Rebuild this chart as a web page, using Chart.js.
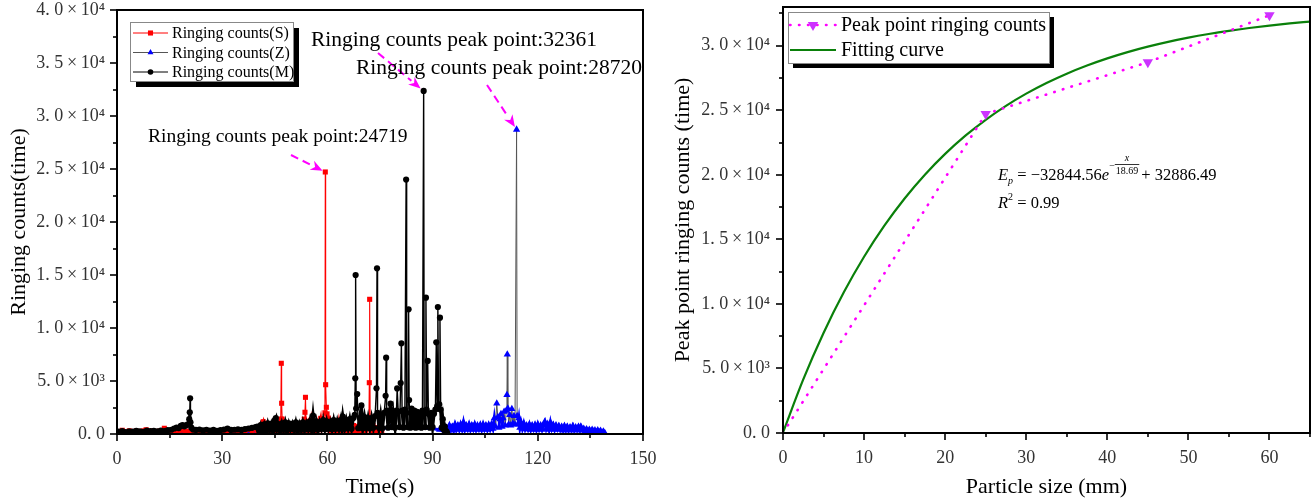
<!DOCTYPE html>
<html>
<head>
<meta charset="utf-8">
<title>Ringing counts</title>
<script src="https://cdn.jsdelivr.net/npm/chart.js@4.4.1/dist/chart.umd.min.js"></script>
<style>
  html, body { margin: 0; padding: 0; background: #fff; overflow: hidden; }
  #wrap { position: relative; width: 1316px; height: 503px; }
  canvas { position: absolute; top: 0; }
  #timeChart { left: 0; }
  #sizeChart { left: 660px; }
</style>
</head>
<body>
<div id="wrap">
  <canvas id="sizeChart" width="656" height="503"></canvas>
  <canvas id="timeChart" width="680" height="503"></canvas>
</div>
<script>
// ---- Ringing counts over time, specimen S ----
const sTime = [0.5,1.5,2.5,3.5,4.5,5.5,6.5,7.5,8.3,9.2,10.2,11.2,12.2,13.5,14.5,15.5,16.5,17.5,18.5,19.5,
  20.5,21.5,22.5,23.5,24.5,25.5,26.5,27.5,28.5,29.5,30.5,31.5,32.5,33.5,34.5,35.5,36.5,37.5,38.5,39.5,
  40.0,40.5,41.0,41.4,41.7,42.0,42.4,42.7,43.0,43.5,44.0,44.5,45.0,45.5,46.0,46.4,46.7,46.85,46.95,47.1,
  47.4,47.8,48.2,48.6,49.0,49.5,50.0,50.5,51.0,51.5,52.0,52.5,53.0,53.4,53.6,53.75,53.9,54.2,54.6,55.0,
  55.4,55.8,56.2,56.6,57.0,57.4,57.8,58.1,58.4,58.8,59.1,59.3,59.4,59.5,59.7,59.9,60.2,60.5,60.9,61.3,
  61.7,62.1,62.5,62.9,63.3,63.7,64.1,64.5,64.9,65.3,65.7,66.1,66.5,67.0,67.5,68.0,68.5,69.0,69.5,70.0,
  70.5,71.0,71.5,71.85,71.95,72.05,72.2,72.6,73.0,73.5,74.0,74.5,75.0,75.5];
const sCount = [200,350,150,300,200,280,150,300,400,200,300,150,280,540,250,200,320,180,350,250,
  260,320,180,300,200,300,170,320,200,300,180,330,220,350,200,380,250,420,300,500,
  300,650,300,900,1160,400,1000,950,300,800,250,700,300,900,250,850,1400,6670,2900,1415,
  300,900,250,800,300,700,250,850,300,750,250,900,300,1400,2050,3460,1200,400,1000,300,
  1300,400,900,300,1100,400,1000,1480,500,1100,1300,2000,24719,4650,2520,1900,1500,400,1100,300,
  1000,350,900,300,1200,400,1000,300,800,350,900,300,700,300,800,300,700,300,800,300,
  700,350,900,1415,4840,12707,1100,300,800,300,600,250,500,200];

// ---- specimen Z ----
const zTime = [0.5,5,10,15,20,25,30,35,40,45,50,55,60,65,70,71.7,73,78,83,88,92,
  93.5,94.0,94.4,94.8,95.2,95.6,96.0,96.4,96.8,97.2,97.6,98.0,98.4,98.8,99.2,99.6,100.0,100.4,100.8,101.2,
  101.6,102.0,102.4,102.8,103.2,103.6,104.0,104.4,104.8,105.2,105.6,106.0,106.4,106.8,107.2,107.6,107.9,108.3,108.6,108.9,
  109.2,109.5,109.8,110.1,110.4,110.7,111.0,111.2,111.3,111.45,111.7,112.0,112.3,112.6,112.9,113.2,113.5,113.95,114.1,114.3,
  114.6,114.9,115.2,115.6,116.0,116.4,116.8,117.2,117.6,118.0,118.4,118.8,119.2,119.6,120.0,120.4,120.8,121.2,121.6,122.0,
  122.4,122.8,123.2,123.6,124.0,124.4,124.8,125.2,125.6,126.0,126.4,126.8,127.2,127.6,128.0,128.4,128.8,129.2,129.6,130.0,
  130.4,130.8,131.2,131.6,132.0,132.3,132.7,133.1,133.5,133.9,134.3,134.7,135.1,135.5,135.9,136.3,136.7,137.1,137.5,137.9,
  138.3,138.7,139.1];
const zCount = [100,150,120,180,150,200,180,220,250,300,350,400,450,500,600,1200,500,600,700,600,400,
  250,600,350,800,400,700,350,900,450,800,400,900,450,1100,400,800,450,900,400,800,
  450,900,400,800,450,850,400,900,450,800,400,850,450,900,500,1500,700,2890,1600,600,
  1400,1900,700,1500,2100,800,2200,3680,7500,2400,900,1800,800,2360,1000,1700,900,28720,1700,900,
  1500,600,1100,500,1000,450,800,450,900,400,800,450,850,400,900,450,800,400,850,1160,
  500,900,400,1100,500,850,400,800,450,750,400,700,350,750,400,700,350,650,400,750,
  350,650,400,700,350,700,400,500,300,450,300,400,250,400,250,350,200,350,200,300,
  150,250,100];

// ---- specimen M ----
const mTime = [0.5,1.5,2.5,3.5,4.5,5.5,6.5,7.5,8.5,9.5,10.5,11.5,12.5,13.5,14.5,15.5,16.3,17.0,17.6,18.2,
  18.7,19.2,19.7,20.2,20.6,20.75,20.85,20.95,21.2,21.7,22.5,23.5,24.5,25.5,26.5,27.5,28.5,29.5,30.5,31.5,
  32.5,33.5,34.5,35.5,36.5,37.5,38.5,39.5,
  40.0,40.5,41.0,41.5,42.0,42.5,43.0,43.5,44.0,44.5,45.0,45.3,45.6,46.0,46.5,47.0,47.5,48.0,48.5,49.0,
  49.5,50.0,50.5,51.0,51.5,52.0,52.5,53.0,53.5,54.0,54.5,55.0,55.5,55.9,56.3,56.8,57.3,57.8,58.3,58.8,
  59.3,59.8,60.3,60.8,61.3,61.8,62.3,62.8,63.3,63.8,64.1,64.4,64.9,65.4,65.9,66.4,66.9,67.4,67.8,67.95,
  68.05,68.2,68.5,68.8,69.2,69.5,69.7,70.1,70.6,71.1,71.6,72.1,72.6,73.1,73.6,74.0,74.15,74.3,74.7,75.2,
  75.7,76.2,76.6,76.75,76.9,77.3,77.7,78.0,78.4,78.8,79.3,79.7,79.9,80.2,80.6,80.9,81.1,81.3,81.7,82.1,
  82.45,82.6,82.9,83.15,83.3,83.6,84.0,84.4,84.8,85.2,85.6,86.0,86.4,86.8,87.1,87.45,87.6,87.9,88.1,88.3,
  88.6,88.8,89.2,89.6,90.0,90.4,90.8,91.05,91.3,91.5,91.7,91.9,92.1,92.3,92.6,92.9,93.2,93.5,93.8,94.1];
const mCount = [220,280,190,260,230,300,250,210,320,270,290,240,330,280,360,400,520,610,560,760,
  850,720,820,900,1400,2050,3370,1100,600,420,380,420,340,400,320,380,300,360,420,520,
  380,400,430,380,460,520,580,650,
  700,300,850,350,900,300,1000,400,950,350,1300,1500,450,900,350,1000,400,1100,350,1000,
  450,950,400,1100,350,950,400,1100,400,1000,450,1200,400,1730,450,1200,400,1100,500,1300,
  450,1200,500,1100,450,1300,500,1200,500,1300,550,1630,500,1300,550,1400,500,1500,1800,5255,
  15000,2400,3770,550,1500,600,2700,550,1600,600,1500,550,1500,600,1700,4311,15630,2000,600,1800,
  550,2000,3610,7200,2200,600,2100,2860,650,1900,600,2200,4300,2100,650,4811,8550,2200,600,2300,
  24000,2000,650,11760,3200,600,2400,650,2200,600,2100,650,2000,600,2200,32361,2000,650,12860,2300,
  6890,1900,600,2000,650,1900,2300,8650,2600,11980,2400,2800,10975,2300,600,1400,400,700,300,150];

// ---- Peak point ringing counts vs particle size ----
const peakSize  = [0, 25, 45, 60];
const peakCount = [0, 24719, 28720, 32361];

// Fitted curve E_p = -32844.56 e^(-x/18.69) + 32886.49, tabulated
const fitSize  = [0,2.5,5,7.5,10,12.5,15,17.5,20,22.5,25,27.5,30,32.5,35,37.5,40,42.5,45,47.5,50,52.5,55,57.5,60,62.5,65];
const fitCount = [42,4153,7750,10897,13651,16059,18166,20008,21620,23031,24265,25344,26288,27114,27837,28469,
  29022,29506,29929,30299,30623,30906,31154,31371,31561,31727,31872];

// ---- tick labels ----
const timeTicks = [0, 30, 60, 90, 120, 150];
const sizeTicks = [0, 10, 20, 30, 40, 50, 60];
const countTicksTime = [0, 5000, 10000, 15000, 20000, 25000, 30000, 35000, 40000];
const countTicksSize = [0, 5000, 10000, 15000, 20000, 25000, 30000];

const serif = "'Liberation Serif', 'Times New Roman', serif";
const SUP = { 3: '\u00B3', 4: '\u2074' };

function sciTick(v) {
  if (v === 0) return '0. 0';
  const e = Math.floor(Math.log10(v) + 1e-9);
  const m = (v / Math.pow(10, e)).toFixed(1).replace('.', '. ');
  return m + '\u2009\u00D7\u200910' + SUP[e];
}

const toPoints = (xs, ys) => xs.map((x, i) => ({ x, y: ys[i] }));

// segments that stay inside the low-level noise band are drawn heavier
const inBand = (c, limit) => Math.max(c.p0.parsed.y, c.p1.parsed.y) < limit;

function markerPath(ctx, style, r, rot, cx, cy) {
  if (Chart.helpers && Chart.helpers.drawPoint) {
    Chart.helpers.drawPoint(ctx, { pointStyle: style, radius: r, rotation: rot || 0, borderWidth: 0 }, cx, cy);
    return;
  }
  ctx.beginPath();
  ctx.arc(cx, cy, r, 0, Math.PI * 2);
  ctx.fill();
}

// Box frame with outward major/minor ticks on the bottom and left axes
const frameTicks = {
  id: 'frameTicks',
  afterDatasetsDraw(chart, args, opts) {
    const { ctx, chartArea: a, scales: { x, y } } = chart;
    ctx.save();
    ctx.strokeStyle = '#000';
    ctx.lineWidth = 2;
    ctx.strokeRect(a.left, a.top, a.right - a.left, a.bottom - a.top);
    ctx.lineWidth = 1.6;
    const isMajor = (v, step) => Math.abs(v / step - Math.round(v / step)) < 1e-6;
    for (let v = x.min; v <= x.max + 1e-9; v += opts.x[1]) {
      const px = Math.round(x.getPixelForValue(v));
      ctx.beginPath();
      ctx.moveTo(px, a.bottom);
      ctx.lineTo(px, a.bottom + (isMajor(v, opts.x[0]) ? 7 : 4));
      ctx.stroke();
    }
    for (let v = y.min; v <= y.max + 1e-9; v += opts.y[1]) {
      const py = Math.round(y.getPixelForValue(v));
      ctx.beginPath();
      ctx.moveTo(a.left, py);
      ctx.lineTo(a.left - (isMajor(v, opts.y[0]) ? 7 : 4), py);
      ctx.stroke();
    }
    ctx.restore();
  }
};

// Boxed key with drop shadow inside the plot
const seriesKey = {
  id: 'seriesKey',
  afterDraw(chart, args, o) {
    const { ctx } = chart;
    ctx.save();
    ctx.fillStyle = '#000';
    ctx.fillRect(o.x + o.shadow, o.y + o.shadow, o.w, o.h);
    ctx.fillStyle = '#fff';
    ctx.fillRect(o.x, o.y, o.w, o.h);
    ctx.strokeStyle = '#888';
    ctx.lineWidth = 1;
    ctx.strokeRect(o.x + 0.5, o.y + 0.5, o.w, o.h);
    ctx.font = o.fontSize + 'px ' + serif;
    ctx.textBaseline = 'middle';
    o.items.forEach((idx, i) => {
      const ds = chart.data.datasets[idx];
      const cy = o.y + o.firstRow + i * o.rowH;
      ctx.save();
      ctx.strokeStyle = ds.borderColor;
      ctx.lineWidth = ds.keyLineWidth || ds.borderWidth;
      ctx.setLineDash(ds.borderDash || []);
      ctx.lineCap = ds.borderCapStyle || 'butt';
      ctx.beginPath();
      ctx.moveTo(o.x + o.sample[0], cy);
      ctx.lineTo(o.x + o.sample[1], cy);
      ctx.stroke();
      ctx.restore();
      if (ds.keyRadius) {
        ctx.fillStyle = ds.pointBackgroundColor;
        markerPath(ctx, ds.pointStyle, ds.keyRadius, ds.pointRotation, o.x + (o.sample[0] + o.sample[1]) / 2, cy);
      }
      ctx.fillStyle = '#000';
      ctx.fillText(ds.label, o.x + o.textX, cy + 1);
    });
    ctx.restore();
  }
};

// Peak callouts: text plus dashed arrow pointing at the peak mark
const peakNotes = {
  id: 'peakNotes',
  afterDraw(chart, args, opts) {
    const { ctx } = chart;
    ctx.save();
    opts.notes.forEach(n => {
      const values = chart.data.datasets[n.dataset].data;
      let best = 0;
      values.forEach((p, i) => { if (p.y > values[best].y) best = i; });
      const el = chart.getDatasetMeta(n.dataset).data[best];
      ctx.fillStyle = '#000';
      ctx.font = n.size + 'px ' + serif;
      ctx.textBaseline = 'alphabetic';
      ctx.fillText('Ringing counts peak point:' + values[best].y, n.tx, n.ty);
      const dx = el.x - n.ax, dy = el.y - n.ay;
      const len = Math.hypot(dx, dy);
      const ux = dx / len, uy = dy / len;
      const tipX = el.x - ux * n.gap, tipY = el.y - uy * n.gap;
      const headL = 12, headW = 5;
      ctx.strokeStyle = '#FF00FF';
      ctx.fillStyle = '#FF00FF';
      ctx.lineWidth = 2;
      ctx.setLineDash([8, 5]);
      ctx.beginPath();
      ctx.moveTo(n.ax, n.ay);
      ctx.lineTo(tipX - ux * headL, tipY - uy * headL);
      ctx.stroke();
      ctx.setLineDash([]);
      ctx.beginPath();
      ctx.moveTo(tipX, tipY);
      ctx.lineTo(tipX - ux * headL - uy * headW, tipY - uy * headL + ux * headW);
      ctx.lineTo(tipX - ux * headL * 0.7, tipY - uy * headL * 0.7);
      ctx.lineTo(tipX - ux * headL + uy * headW, tipY - uy * headL - ux * headW);
      ctx.closePath();
      ctx.fill();
    });
    ctx.restore();
  }
};

// Fitted equation and goodness of fit
const fitEquation = {
  id: 'fitEquation',
  afterDraw(chart, args, o) {
    const { ctx } = chart;
    ctx.save();
    ctx.fillStyle = '#000';
    ctx.textBaseline = 'alphabetic';
    const big = o.size, small = Math.round(o.size * 0.62);
    let x = o.x;
    const y = o.y;
    const put = (txt, style, size, dy = 0) => {
      ctx.font = style + ' ' + size + 'px ' + serif;
      ctx.fillText(txt, x, y + dy);
      x += ctx.measureText(txt).width;
    };
    put('E', 'italic', big);
    put('p', 'italic', small, 4);
    put(' = \u221232844.56', 'normal', big);
    put('e', 'italic', big);
    put('\u2212', 'normal', small, -11);
    ctx.font = 'normal ' + small + 'px ' + serif;
    const fw = ctx.measureText('18.69').width + 2;
    const fx = x;
    ctx.font = 'italic ' + small + 'px ' + serif;
    ctx.textAlign = 'center';
    ctx.fillText('x', fx + fw / 2, y - 19);
    ctx.font = 'normal ' + small + 'px ' + serif;
    ctx.fillText('18.69', fx + fw / 2, y - 6);
    ctx.textAlign = 'left';
    ctx.fillRect(fx, y - 16, fw, 0.8);
    x = fx + fw + 2;
    put('+ 32886.49', 'normal', big);
    x = o.x;
    put('R', 'italic', big, o.lineGap);
    put('2', 'normal', small, o.lineGap - 8);
    put(' = 0.99', 'normal', big, o.lineGap);
    ctx.restore();
  }
};

const tickFont = { family: serif, size: 18 };
const titleFont = { family: serif, size: 22 };

function axes(xOpts, yOpts) {
  return {
    x: {
      type: 'linear', min: xOpts.min, max: xOpts.max,
      afterBuildTicks(s) { s.ticks = xOpts.ticks.map(v => ({ value: v })); },
      afterFit(s) { s.height = xOpts.height; s.paddingLeft = 0; s.paddingRight = 0; },
      grid: { display: false, drawTicks: false }, border: { display: false },
      ticks: { padding: 14, color: '#333', font: tickFont, maxRotation: 0, autoSkip: false },
      title: { display: true, text: xOpts.title, color: '#000', font: titleFont, padding: { top: 0, bottom: 3 } }
    },
    y: {
      type: 'linear', min: yOpts.min, max: yOpts.max,
      afterBuildTicks(s) { s.ticks = yOpts.ticks.map(v => ({ value: v })); },
      afterFit(s) { s.width = yOpts.width; s.paddingTop = 0; s.paddingBottom = 0; },
      grid: { display: false, drawTicks: false }, border: { display: false },
      ticks: { padding: yOpts.pad, color: '#333', font: tickFont, autoSkip: false, callback: v => sciTick(v) },
      title: { display: true, text: yOpts.title, color: '#000', font: titleFont, padding: { top: yOpts.titlePad, bottom: 0 } }
    }
  };
}

new Chart(document.getElementById('timeChart'), {
  type: 'line',
  data: {
    datasets: [
      { label: 'Ringing counts(M)', data: toPoints(mTime, mCount), borderColor: '#000', borderWidth: 1.3, keyLineWidth: 1,
        segment: { borderWidth: c => inBand(c, 3000) ? 3.2 : 1.4 },
        pointStyle: 'circle', pointRadius: 3.1, keyRadius: 2.8, pointBackgroundColor: '#000', pointBorderWidth: 0, order: 0 },
      { label: 'Ringing counts(S)', data: toPoints(sTime, sCount), borderColor: '#FF0000', borderWidth: 1.1, keyLineWidth: 1,
        segment: { borderWidth: c => inBand(c, 2000) ? 2.6 : 1.1 },
        pointStyle: 'rect', pointRadius: 3.6, keyRadius: 3.6, pointBackgroundColor: '#FF0000', pointBorderWidth: 0, order: 1 },
      { label: 'Ringing counts(Z)', data: toPoints(zTime, zCount), borderColor: '#555', borderWidth: 1, keyLineWidth: 1,
        segment: {
          borderColor: c => inBand(c, 1600) ? '#0000FF' : '#555',
          borderWidth: c => inBand(c, 1600) ? 3 : 1
        },
        pointStyle: 'triangle', pointRadius: 4.2, keyRadius: 3.4, pointBackgroundColor: '#0000FF', pointBorderWidth: 0, order: 2 }
    ]
  },
  options: {
    responsive: false, animation: false, devicePixelRatio: 1,
    layout: { padding: { left: 0, right: 37, top: 10, bottom: 0 } },
    elements: { line: { tension: 0 } },
    plugins: {
      legend: { display: false }, tooltip: { enabled: false },
      frameTicks: { x: [30, 15], y: [5000, 2500] },
      seriesKey: { x: 130, y: 22, w: 163, h: 59, shadow: 6, firstRow: 11, rowH: 19.5,
        sample: [3, 38], textX: 42, fontSize: 16, items: [1, 2, 0] },
      peakNotes: { notes: [
        { dataset: 1, tx: 148, ty: 142, size: 19.5, ax: 291, ay: 155, gap: 3 },
        { dataset: 0, tx: 311, ty: 46, size: 21.5, ax: 378, ay: 53, gap: 4 },
        { dataset: 2, tx: 356, ty: 74, size: 21.5, ax: 487, ay: 85, gap: 3 }
      ] }
    },
    scales: axes(
      { min: 0, max: 150, height: 69, ticks: timeTicks, title: 'Time(s)' },
      { min: 0, max: 40000, width: 117, pad: 12, titlePad: 6, ticks: countTicksTime, title: 'Ringing counts(time)' }
    )
  },
  plugins: [frameTicks, seriesKey, peakNotes]
});

new Chart(document.getElementById('sizeChart'), {
  type: 'line',
  data: {
    datasets: [
      { label: 'Peak point ringing counts', data: toPoints(peakSize, peakCount), borderColor: '#FF00FF', borderWidth: 2.6,
        borderDash: [0.5, 8.5], borderCapStyle: 'round', pointStyle: 'triangle', pointRotation: 180,
        pointRadius: [0, 6, 6, 6], keyRadius: 6, pointBackgroundColor: '#CC33FF', pointBorderWidth: 0, order: 0 },
      { label: 'Fitting curve', data: toPoints(fitSize, fitCount), borderColor: '#0A800A', borderWidth: 2.2,
        cubicInterpolationMode: 'monotone', pointRadius: 0, keyRadius: 0, order: 1 }
    ]
  },
  options: {
    responsive: false, animation: false, devicePixelRatio: 1,
    layout: { padding: { left: 0, right: 5, top: 7, bottom: 0 } },
    plugins: {
      legend: { display: false }, tooltip: { enabled: false },
      frameTicks: { x: [10, 5], y: [5000, 2500] },
      seriesKey: { x: 128, y: 12, w: 261, h: 51, shadow: 5, firstRow: 13, rowH: 25,
        sample: [2, 48], textX: 53, fontSize: 20, items: [0, 1] },
      fitEquation: { x: 338, y: 180, size: 16.5, lineGap: 28 }
    },
    scales: axes(
      { min: 0, max: 65, height: 70, ticks: sizeTicks, title: 'Particle size (mm)' },
      { min: 0, max: 33000, width: 123, pad: 13, titlePad: 10, ticks: countTicksSize, title: 'Peak point ringing counts (time)' }
    )
  },
  plugins: [frameTicks, seriesKey, fitEquation]
});
</script>
</body>
</html>
